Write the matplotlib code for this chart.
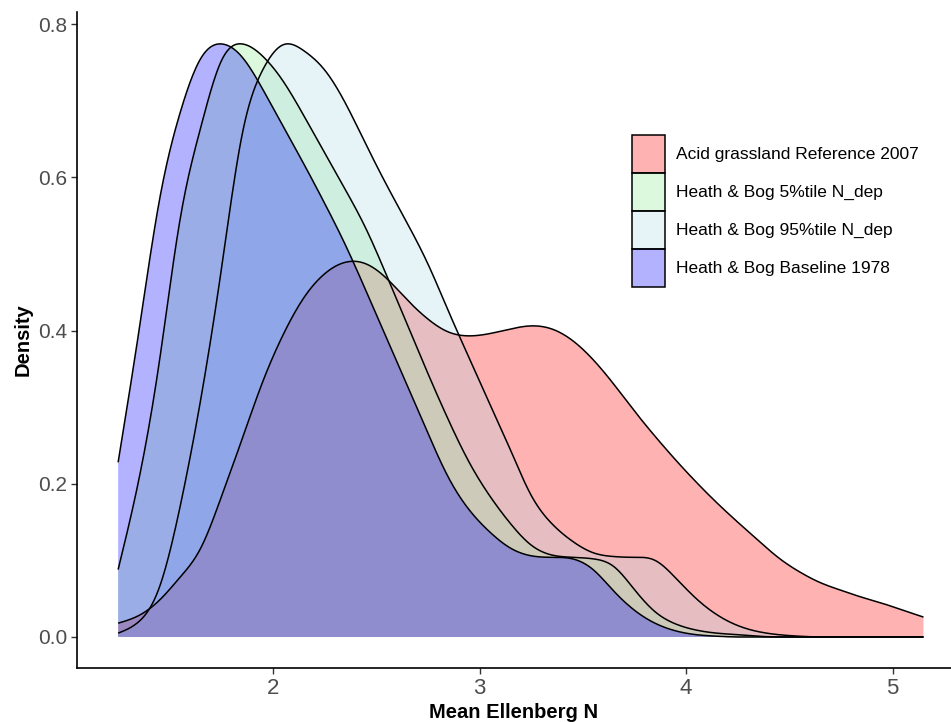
import numpy as np
import matplotlib
matplotlib.use("Agg")
import matplotlib.pyplot as plt
from matplotlib.patches import Patch
from matplotlib.colors import to_rgba

# ---------------- data ----------------
x_vals = [1.25, 1.35, 1.45, 1.55, 1.65, 1.75, 1.85, 1.95, 2.05, 2.15,
          2.25, 2.35, 2.45, 2.55, 2.65, 2.75, 2.85, 2.95, 3.05, 3.15,
          3.25, 3.35, 3.45, 3.55, 3.65, 3.75, 3.85, 3.95, 4.05, 4.15,
          4.25, 4.35, 4.45, 4.55, 4.65, 4.75, 4.85, 4.95, 5.05, 5.15]

acid_2007 = [0.018, 0.028, 0.048, 0.078, 0.116, 0.183, 0.258, 0.333, 0.395, 0.443,
             0.474, 0.489, 0.487, 0.468, 0.440, 0.415, 0.398, 0.393, 0.396, 0.402,
             0.406, 0.402, 0.387, 0.362, 0.330, 0.295, 0.262, 0.231, 0.202, 0.175,
             0.150, 0.126, 0.103, 0.085, 0.071, 0.061, 0.052, 0.044, 0.035, 0.026]

hb_5 = [0.088, 0.205, 0.360, 0.545, 0.665, 0.752, 0.774, 0.758, 0.725, 0.680,
        0.632, 0.584, 0.533, 0.472, 0.408, 0.344, 0.283, 0.228, 0.184, 0.148,
        0.120, 0.107, 0.104, 0.102, 0.092, 0.062, 0.033, 0.017, 0.009, 0.005,
        0.003, 0.001, 0.0, 0.0, 0.0, 0.0, 0.0, 0.0, 0.0, 0.0]

hb_95 = [0.005, 0.020, 0.065, 0.170, 0.310, 0.480, 0.655, 0.740, 0.773, 0.765,
         0.740, 0.697, 0.643, 0.590, 0.540, 0.487, 0.425, 0.364, 0.304, 0.244,
         0.185, 0.148, 0.125, 0.110, 0.105, 0.104, 0.100, 0.077, 0.050, 0.029,
         0.015, 0.007, 0.003, 0.001, 0.0, 0.0, 0.0, 0.0, 0.0, 0.0]

hb_1978 = [0.228, 0.398, 0.570, 0.684, 0.755, 0.774, 0.757, 0.715, 0.666, 0.617,
           0.566, 0.512, 0.452, 0.390, 0.328, 0.266, 0.208, 0.166, 0.137, 0.116,
           0.106, 0.104, 0.102, 0.088, 0.060, 0.035, 0.018, 0.008, 0.003, 0.001,
           0.0, 0.0, 0.0, 0.0, 0.0, 0.0, 0.0, 0.0, 0.0, 0.0]

labels = ["Acid grassland Reference 2007", "Heath & Bog 5%tile N_dep",
          "Heath & Bog 95%tile N_dep", "Heath & Bog Baseline 1978"]
fills = ["#FF0000", "#90EE90", "#ADD8E6", "#0000FF"]
series = [acid_2007, hb_5, hb_95, hb_1978]

x_ticks = [2, 3, 4, 5]
y_ticks = [0.0, 0.2, 0.4, 0.6, 0.8]
y_ticklabels = ["0.0", "0.2", "0.4", "0.6", "0.8"]


def natural_spline(x, y, xf):
    x = np.asarray(x, float)
    y = np.asarray(y, float)
    n = len(x)
    h = np.diff(x)
    A = np.zeros((n, n))
    b = np.zeros(n)
    A[0, 0] = 1
    A[-1, -1] = 1
    for i in range(1, n - 1):
        A[i, i - 1] = h[i - 1]
        A[i, i] = 2 * (h[i - 1] + h[i])
        A[i, i + 1] = h[i]
        b[i] = 3 * ((y[i + 1] - y[i]) / h[i] - (y[i] - y[i - 1]) / h[i - 1])
    c = np.linalg.solve(A, b)
    bb = (y[1:] - y[:-1]) / h - h * (2 * c[:-1] + c[1:]) / 3
    d = (c[1:] - c[:-1]) / (3 * h)
    idx = np.clip(np.searchsorted(x, xf) - 1, 0, n - 2)
    t = xf - x[idx]
    return y[idx] + bb[idx] * t + c[idx] * t ** 2 + d[idx] * t ** 3


W, H = 951, 722
fig = plt.figure(figsize=(W / 100, H / 100), dpi=100)
ax = fig.add_axes([77 / W, (H - 668) / H, (W - 77) / W, (668 - 12) / H])

xf = np.linspace(x_vals[0], x_vals[-1], 800)
for ys, col in zip(series, fills):
    yf = np.clip(natural_spline(x_vals, ys, xf), 0, None)
    ax.fill_between(xf, 0, yf, facecolor=to_rgba(col, 0.3), edgecolor="none", linewidth=0)
    ax.plot(xf, yf, color="black", linewidth=1.1, solid_capstyle="butt")

ax.set_xlim(2 - (273 - 77) / 206.5, 2 + (W - 273) / 206.5)
ax.set_ylim((637 - 668) / 766.25, (637 - 12) / 766.25)

for s in ["top", "right"]:
    ax.spines[s].set_visible(False)
for s in ["left", "bottom"]:
    ax.spines[s].set_linewidth(1.2)
    ax.spines[s].set_color("black")

fam = ["Liberation Sans", "DejaVu Sans"]

ax.set_xticks(x_ticks)
ax.set_xticklabels([str(v) for v in x_ticks], family=fam, fontsize=16, color="#4D4D4D")
ax.set_yticks(y_ticks)
ax.set_yticklabels(y_ticklabels, family=fam, fontsize=15, color="#4D4D4D")
ax.tick_params(axis="both", length=4, width=1, color="#333333", pad=3)

ax.set_xlabel("Mean Ellenberg N", family=fam, fontweight="bold", fontsize=14.5, labelpad=3)
ax.set_ylabel("Density", family=fam, fontweight="bold", fontsize=14.5, labelpad=4)

handles = [Patch(facecolor=to_rgba(c, 0.3), edgecolor="black", linewidth=1.1) for c in fills]
fs = 12.5
fpx = fs * 100 / 72
box_h = 38 / fpx
leg = fig.legend(handles, labels, loc="upper left",
                 bbox_to_anchor=(632 / W, 1 - 135 / H), frameon=False,
                 prop={"family": fam, "size": fs},
                 handlelength=33 / fpx, handleheight=(box_h - 0.245) / 0.65,
                 labelspacing=0.0,
                 handletextpad=11 / fpx, borderpad=0, borderaxespad=0)

fig.savefig("out.png", dpi=100)
